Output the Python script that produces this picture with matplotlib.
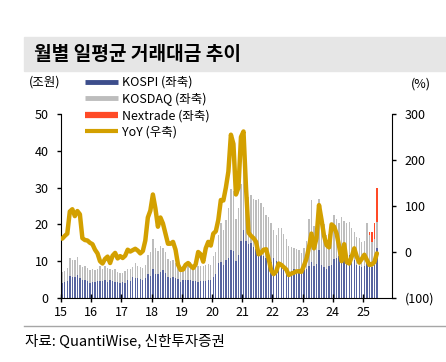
import numpy as np
import matplotlib
matplotlib.use("Agg")
import matplotlib.pyplot as plt
from matplotlib.lines import Line2D
from matplotlib.patches import Rectangle

plt.rcParams['font.family'] = ['Noto Sans CJK KR', 'DejaVu Sans']

# 월별 일평균 거래대금 (조원), 2015.01 ~ 2025.06
kospi = [
    4.2, 4.3, 4.6, 5.9, 5.7, 5.6, 6.2, 5.3, 4.8, 4.9, 4.5, 4.2,          # 2015
    4.3, 4.4, 4.5, 4.7, 4.5, 5.0, 4.4, 4.9, 4.6, 4.3, 4.4, 4.0,          # 2016
    4.3, 4.2, 4.8, 4.7, 5.6, 5.3, 5.5, 5.1, 5.0, 5.3, 6.5, 6.0,          # 2017
    7.8, 6.5, 6.4, 7.0, 7.5, 6.8, 5.6, 5.3, 5.6, 5.4, 5.2, 4.4,          # 2018
    4.9, 4.8, 4.9, 5.0, 4.7, 4.6, 4.4, 4.6, 4.5, 4.7, 5.0, 4.9,          # 2019
    5.8, 6.4, 9.6, 9.8, 8.9, 10.2, 11.0, 13.0, 12.8, 10.0, 11.8, 15.5,   # 2020
    18.5, 15.5, 14.8, 15.0, 13.9, 13.2, 12.8, 12.0, 11.5, 10.8, 10.8, 9.8,  # 2021
    11.0, 10.0, 9.6, 9.2, 8.8, 8.2, 7.6, 7.4, 7.8, 7.4, 7.8, 6.6,        # 2022
    7.6, 8.0, 8.6, 9.8, 8.8, 9.2, 13.0, 9.0, 8.5, 8.0, 8.7, 9.0,         # 2023
    10.5, 11.0, 11.5, 12.2, 11.6, 11.0, 11.8, 10.5, 10.2, 9.0, 8.8, 8.3, # 2024
    8.6, 10.5, 9.0, 8.5, 9.0, 13.6,                                      # 2025
]
kosdaq = [
    3.0, 3.1, 3.6, 5.0, 4.7, 4.8, 4.9, 3.7, 3.7, 3.8, 3.6, 3.3,
    3.5, 3.1, 3.5, 4.0, 3.3, 3.8, 3.8, 3.1, 2.9, 3.5, 2.8, 2.8,
    2.6, 3.1, 3.1, 3.3, 2.9, 4.1, 3.1, 3.2, 3.2, 3.7, 5.3, 6.5,
    8.2, 7.0, 6.4, 7.0, 6.1, 5.7, 4.9, 4.7, 4.6, 4.2, 3.4, 3.3,
    3.9, 4.4, 4.6, 4.8, 4.1, 4.2, 4.3, 4.2, 4.1, 4.2, 4.3, 4.2,
    5.7, 6.1, 7.4, 10.7, 9.6, 11.0, 13.5, 16.5, 16.2, 11.5, 12.7, 15.5,
    17.5, 13.0, 12.7, 13.0, 13.1, 13.4, 14.2, 13.7, 13.3, 11.7, 11.3, 10.7,
    7.5, 7.0, 9.4, 9.8, 8.7, 7.8, 6.4, 6.5, 5.8, 5.8, 5.2, 5.6,
    5.9, 7.5, 12.9, 16.7, 10.7, 11.8, 14.0, 13.5, 11.5, 9.0, 8.8, 11.5,
    12.1, 10.5, 9.0, 9.8, 9.4, 9.4, 8.9, 8.4, 7.8, 7.7, 7.5, 7.0,
    6.9, 10.0, 8.0, 6.8, 7.0, 7.1,
]
nextrade = [0.0] * 122 + [1.0, 2.7, 4.5, 9.1]

# YoY (%)
yoy = [
    29, 35, 40, 88, 93, 78, 89, 82, 30, 26, 25, 20,
    17, 5, -3, -20, -25, -15, -10, -24, -8, -2, -14, -9,
    -13, -8, 5, 1, 4, 7, 3, -3, 2, 25, 75, 90,
    125, 95, 55, 75, 62, 40, 18, 18, 22, 5, -28, -39,
    -38, -28, -24, -30, -35, -27, 0, -5, -21, 8, 22, 14,
    40, 45, 70, 113, 112, 140, 175, 255, 235, 125, 140, 250,
    262, 140, 42, 35, 30, 22, -5, -2, 5, 6, -15, -40,
    -48, -42, -25, -28, -33, -38, -50, -47, -45, -42, -42, -43,
    -30, -15, 10, 40, 8, 30, 102, 70, 35, 15, 10, 60,
    55, 40, 12, -20, 17, -22, -25, -10, 8, -10, -23, -15,
    -6, -17, -28, -27, -22, -3,
]

year_labels = ['15', '16', '17', '18', '19', '20', '21', '22', '23', '24', '25']
left_ticks = [0, 10, 20, 30, 40, 50]
right_ticks = [-100, 0, 100, 200, 300]
right_labels = ['(100)', '0', '100', '200', '300']

c_kospi = '#56639F'
c_kosdaq = '#BDBDBD'
c_next = '#FF4A26'
c_yoy = '#D3A000'

fig = plt.figure(figsize=(4.46, 3.62), dpi=100)

# 제목 배경
fig.patches.append(Rectangle((24 / 446, 1 - 71 / 362), 1 - 24 / 446, 34 / 362,
                             transform=fig.transFigure, color='#E6E6E6', zorder=0))
fig.text(34 / 446, 1 - 54 / 362, '월별 일평균 거래대금 추이', fontsize=13.8,
         fontweight='bold', va='center', ha='left')

ax = fig.add_axes([61 / 446, 1 - 298 / 362, 331 / 446, 184 / 362])
x = np.arange(len(kospi))
kospi_a = np.array(kospi)
kosdaq_a = np.array(kosdaq)
ax.bar(x, kospi_a, width=0.55, color=c_kospi, linewidth=0)
ax.bar(x, kosdaq_a, bottom=kospi_a, width=0.55, color=c_kosdaq, linewidth=0)
ax.bar(x, nextrade, bottom=kospi_a + kosdaq_a, width=0.55, color=c_next, linewidth=0)

ax.set_xlim(-0.5, 131)
ax.set_ylim(0, 50)
ax.set_yticks(left_ticks)
ax.set_xticks(np.arange(len(year_labels)) * 12 - 0.5)
ax.set_xticklabels(year_labels)
ax.spines['top'].set_visible(False)
ax.spines['right'].set_visible(False)
ax.tick_params(axis='y', direction='out', length=3, width=1, pad=6, labelsize=9)
ax.tick_params(axis='x', direction='inout', length=6, width=1, pad=3, labelsize=9)

ax2 = ax.twinx()
ax2.plot(x, yoy, color=c_yoy, lw=3.2, solid_joinstyle='round', solid_capstyle='round')
ax2.set_ylim(-100, 300)
ax2.set_yticks(right_ticks)
ax2.set_yticklabels(right_labels)
for s in ['top', 'left', 'bottom']:
    ax2.spines[s].set_visible(False)
ax2.tick_params(axis='y', direction='out', length=3, width=1, pad=6, labelsize=9)

fig.text(45 / 446, 1 - 82 / 362, '(조원)', fontsize=9, ha='center', va='center')
fig.text(421 / 446, 1 - 84 / 362, '(%)', fontsize=9, ha='center', va='center')

handles = [
    Line2D([], [], color='#3D4E8C', lw=3.5, solid_capstyle='butt'),
    Line2D([], [], color=c_kosdaq, lw=3.5, solid_capstyle='butt'),
    Line2D([], [], color=c_next, lw=4.5, solid_capstyle='butt'),
    Line2D([], [], color=c_yoy, lw=3, solid_capstyle='butt'),
]
labels = ['KOSPI (좌축)', 'KOSDAQ (좌축)', 'Nextrade (좌축)', 'YoY (우축)']
fig.legend(handles, labels, loc='upper left', bbox_to_anchor=(85 / 446, 1 - 76 / 362),
           frameon=False, fontsize=9, handlelength=2.6, handletextpad=0.35,
           labelspacing=0.28, borderpad=0, borderaxespad=0)

# 하단 구분선 및 출처
fig.add_artist(Line2D([24 / 446, 1], [1 - 326 / 362, 1 - 326 / 362],
                      transform=fig.transFigure, color='#A6A6A6', lw=1))
fig.text(25 / 446, 1 - 341 / 362, '자료: QuantiWise, 신한투자증권', fontsize=10.5,
         ha='left', va='center')

fig.savefig('out.png', dpi=100)
